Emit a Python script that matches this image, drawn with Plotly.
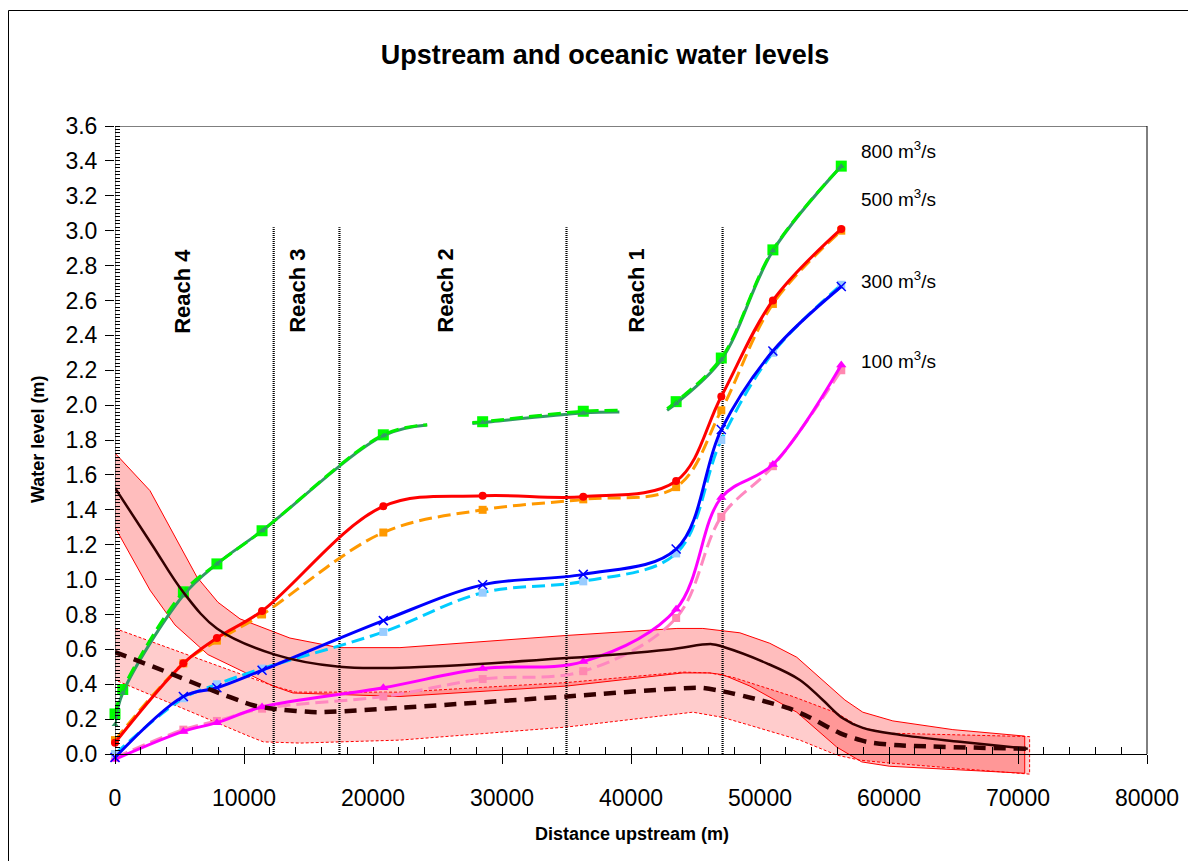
import plotly.graph_objects as go

# ---------------- data ----------------
# sampling stations (distance upstream, m) of the 100/300/500 m3/s profiles
stations = [0, 5300, 7900, 11400, 20800, 28500, 36300, 43500, 47000, 51000, 56300]

q500_model = [0.065, 0.52, 0.665, 0.82, 1.42, 1.48, 1.475, 1.565, 2.05, 2.60, 3.01]
q500_obs = [0.08, 0.52, 0.65, 0.80, 1.27, 1.40, 1.46, 1.53, 1.97, 2.58, 3.00]
q300_model = [-0.02, 0.33, 0.38, 0.48, 0.765, 0.97, 1.03, 1.175, 1.86, 2.31, 2.68]
q300_obs = [0.0, 0.32, 0.40, 0.49, 0.70, 0.925, 0.99, 1.15, 1.80, 2.30, 2.69]
q100_model = [-0.03, 0.13, 0.18, 0.27, 0.38, 0.49, 0.53, 0.83, 1.47, 1.66, 2.23]
q100_obs = [-0.02, 0.14, 0.19, 0.26, 0.33, 0.43, 0.475, 0.78, 1.36, 1.65, 2.20]

# 800 m3/s profile (with gaps)
q800_x = [0, 600, 5300, 7900, 11400, 20800, 24200, 26000, 27700, 28500, 36300,
          39100, 41000, 42800, 43500, 47000, 51000, 56300]
q800_model = [0.17, 0.35, 0.91, 1.09, 1.28, 1.825, 1.886, None, 1.895, 1.90, 1.955,
              1.96, None, 1.97, 2.01, 2.26, 2.885, 3.37]
q800_obs = [0.23, 0.37, 0.93, 1.09, 1.28, 1.83, 1.888, None, 1.90, 1.905, 1.965,
            1.97, None, 1.98, 2.02, 2.27, 2.89, 3.37]
q800_marker_x = [0, 600, 5300, 7900, 11400, 20800, 28500, 36300, 43500, 47000, 51000, 56300]

# oceanic levels: mean (solid) with envelope
ocean_hi_x = [0, 2870, 5270, 7900, 12400, 17400, 22090, 35030, 43000, 46270, 47120,
              50530, 53090, 54870, 56420, 57970, 60840, 65490, 70760]
ocean_hi = [1.525, 1.20, 0.93, 0.72, 0.57, 0.50, 0.495, 0.55, 0.60, 0.63, 0.615,
            0.52, 0.425, 0.31, 0.205, 0.15, 0.11, 0.07, 0.03]
band_hi_upper_x = [0, 2710, 6350, 7980, 9690, 13560, 17360, 22090, 35030, 43560, 45570,
                   48440, 50760, 52850, 56580, 57970, 60300, 64950, 70520]
band_hi_upper = [1.725, 1.51, 1.015, 0.87, 0.775, 0.665, 0.61, 0.61, 0.68, 0.72, 0.72,
                 0.695, 0.635, 0.555, 0.31, 0.24, 0.19, 0.14, 0.103]
band_hi_lower_x = [0, 2710, 4650, 7210, 12250, 13800, 22090, 35030, 44020, 46110, 47120,
                   49210, 52850, 55950, 57890, 60060, 70520]
band_hi_lower = [1.30, 0.94, 0.74, 0.57, 0.39, 0.35, 0.33, 0.39, 0.465, 0.465, 0.455,
                 0.39, 0.24, 0.04, -0.045, -0.07, -0.11]

# oceanic levels: lower scenario (dashed) with envelope
ocean_lo_x = [0, 4030, 7360, 10700, 12250, 15650, 22090, 35030, 45340, 47120, 49990,
              52310, 53860, 56190, 58280, 60840, 70760]
ocean_lo = [0.585, 0.47, 0.37, 0.28, 0.26, 0.24, 0.265, 0.33, 0.38, 0.36, 0.31,
            0.26, 0.21, 0.12, 0.07, 0.05, 0.03]
band_lo_upper_x = [0, 12300, 14000, 22090, 35030, 44020, 46110, 47900, 52550, 55950,
                   57740, 59830, 70900]
band_lo_upper = [0.72, 0.39, 0.355, 0.355, 0.41, 0.47, 0.465, 0.44, 0.33, 0.235,
                 0.155, 0.12, 0.10]
band_lo_lower_x = [0, 10460, 11500, 14340, 22090, 35030, 44800, 47120, 49210, 53090,
                   54400, 55950, 57740, 59830, 70900]
band_lo_lower = [0.425, 0.10, 0.07, 0.063, 0.08, 0.155, 0.24, 0.21, 0.165, 0.08,
                 0.04, -0.006, -0.035, -0.05, -0.115]

reach_bounds = [12300, 17400, 35000, 47100]
reach_top = 3.02
reach_names = ["Reach 4", "Reach 3", "Reach 2", "Reach 1"]
reach_label_x = [5270, 14180, 25650, 40450]
reach_label_y = 2.655

flow_labels = ["800 m<sup>3</sup>/s", "500 m<sup>3</sup>/s", "300 m<sup>3</sup>/s", "100 m<sup>3</sup>/s"]
flow_label_x = 57700
flow_label_y = [3.46, 3.19, 2.72, 2.26]

x_ticks = list(range(0, 80001, 10000))
y_ticks = [round(0.2 * i, 1) for i in range(19)]

# ---------------- figure ----------------
FONT = "Arial, 'Liberation Sans', sans-serif"
YMIN, YMAX = -0.12, 3.6
OFF = 8  # page body margin
fig = go.Figure()


def band(xu, yu, xl, yl, fill, dash):
    fig.add_trace(go.Scatter(
        x=list(xu) + list(xl)[::-1], y=list(yu) + list(yl)[::-1],
        mode="lines", fill="toself", fillcolor=fill,
        line=dict(color="#FF0000", width=1, dash=dash), hoverinfo="skip"))


band(band_lo_upper_x, band_lo_upper, band_lo_lower_x, band_lo_lower,
     "rgba(255,0,0,0.20)", "3px,2px")
band(band_hi_upper_x, band_hi_upper, band_hi_lower_x, band_hi_lower,
     "rgba(255,0,0,0.26)", "solid")

# reach boundaries
for b in reach_bounds:
    fig.add_trace(go.Scatter(x=[b, b], y=[0, reach_top], mode="lines",
                             line=dict(color="black", width=2.2, dash="1px,1px"),
                             hoverinfo="skip"))


def series(x, y, color, width, dash, symbol, msize, mcolor, smoothing=1.0):
    fig.add_trace(go.Scatter(
        x=x, y=y, mode="lines+markers", connectgaps=False, cliponaxis=False,
        line=dict(color=color, width=width, dash=dash, shape="spline", smoothing=smoothing),
        marker=dict(symbol=symbol, size=msize, color=mcolor,
                    line=dict(color=mcolor, width=1.5 if "x" in symbol else 0))))


# dashed "observed" profiles
series(stations, q100_obs, "#FF88C0", 3, "13px,6px", "square", 8, "#FF88B0")
series(stations, q300_obs, "#00CCFF", 3, "13px,6px", "square", 8, "#99CCFF")
series(stations, q500_obs, "#FF9900", 3, "13px,6px", "square", 8, "#FF9900")
# solid profiles
series(stations, q100_model, "#FF00FF", 3, "solid", "triangle-up", 9, "#FF00FF")
series(stations, q300_model, "#0000FF", 3, "solid", "x-thin", 9, "#0000FF")
series(stations, q500_model, "#FF0000", 3, "solid", "circle", 8, "#FF0000")

# 800 m3/s
lookup_obs = {x: y for x, y in zip(q800_x, q800_obs)}
lookup_mod = {x: y for x, y in zip(q800_x, q800_model)}
fig.add_trace(go.Scatter(x=q800_marker_x, y=[lookup_obs[x] for x in q800_marker_x],
                         mode="markers", cliponaxis=False,
                         marker=dict(symbol="square", size=11, color="#00FF00")))
fig.add_trace(go.Scatter(x=q800_x, y=q800_model, mode="lines", connectgaps=False,
                         line=dict(color="#339966", width=3, shape="spline")))
fig.add_trace(go.Scatter(x=q800_x, y=q800_obs, mode="lines", connectgaps=False,
                         line=dict(color="#00EE00", width=3, dash="13px,6px", shape="spline")))
fig.add_trace(go.Scatter(x=q800_marker_x, y=[lookup_mod[x] for x in q800_marker_x],
                         mode="markers", cliponaxis=False,
                         marker=dict(symbol="triangle-up", size=6, color="#339966")))

# oceanic mean lines
fig.add_trace(go.Scatter(x=ocean_lo_x, y=ocean_lo, mode="lines",
                         line=dict(color="#330000", width=4.5, dash="12px,8px",
                                   shape="spline", smoothing=0.6)))
fig.add_trace(go.Scatter(x=ocean_hi_x, y=ocean_hi, mode="lines",
                         line=dict(color="#330000", width=2.5, shape="spline", smoothing=1.0)))

annotations = []
for name, xr in zip(reach_names, reach_label_x):
    annotations.append(dict(x=xr, y=reach_label_y, xref="x", yref="y", text="<b>" + name + "</b>",
                            textangle=-90, showarrow=False, xanchor="center", yanchor="middle",
                            font=dict(family=FONT, size=22, color="black")))
for lab, yl in zip(flow_labels, flow_label_y):
    annotations.append(dict(x=flow_label_x, y=yl, xref="x", yref="y", text=lab,
                            xanchor="left", yanchor="middle", showarrow=False,
                            font=dict(family=FONT, size=19, color="black")))

# layout in screen pixels (reference), converted to figure pixels
L, R, T, B = 115 - OFF, 1147 - OFF, 126 - OFF, 775 - OFF
W, H = 1196 - OFF, 861 - OFF
pw, ph = R - L, B - T


def px(xs):
    return (xs - OFF - L) / pw


def py(ys):
    return (B - (ys - OFF)) / ph


annotations.append(dict(x=px(632), y=py(834), xref="paper", yref="paper",
                        xanchor="center", yanchor="middle",
                        text="<b>Distance upstream (m)</b>", showarrow=False,
                        font=dict(family=FONT, size=18, color="black")))
annotations.append(dict(x=px(38), y=py(440), xref="paper", yref="paper",
                        xanchor="center", yanchor="middle",
                        text="<b>Water level (m)</b>", textangle=-90, showarrow=False,
                        font=dict(family=FONT, size=18, color="black")))

shapes = [
    # plot-area frame (top and right)
    dict(type="line", xref="paper", yref="y", x0=0, x1=1, y0=YMAX, y1=YMAX,
         line=dict(color="black", width=1)),
    dict(type="line", xref="paper", yref="y", x0=1, x1=1, y0=0, y1=YMAX,
         line=dict(color="black", width=1)),
    # y axis line from 0 up
    dict(type="line", xref="x", yref="y", x0=0, x1=0, y0=0, y1=YMAX,
         line=dict(color="black", width=1)),
    # outer chart border
    dict(type="rect", xref="paper", yref="paper", x0=px(8.5), x1=px(1215),
         y0=py(880), y1=py(10.5), line=dict(color="black", width=1)),
]

fig.update_layout(
    width=W, height=H,
    margin=dict(l=L, r=W - R, t=T, b=H - B),
    paper_bgcolor="white", plot_bgcolor="white",
    showlegend=False,
    title=dict(text="<b>Upstream and oceanic water levels</b>",
               x=(605 - OFF) / W, xanchor="center", xref="container",
               y=1 - (55 - OFF) / H, yanchor="middle", yref="container",
               font=dict(family=FONT, size=27, color="black")),
    annotations=annotations,
    shapes=shapes,
    xaxis=dict(range=[0, 80000], tickvals=x_ticks, tickformat="d",
               anchor="free", position=(0 - YMIN) / (YMAX - YMIN),
               showline=True, linecolor="black", linewidth=1,
               ticks="outside", ticklen=9, tickcolor="black", tickwidth=1,
               ticklabelstandoff=14,
               minor=dict(tickvals=list(range(2000, 80000, 2000)), ticks="inside",
                          ticklen=7, tickcolor="black", tickwidth=1),
               showgrid=False, zeroline=False,
               tickfont=dict(family=FONT, size=23, color="black")),
    yaxis=dict(range=[YMIN, YMAX], tickvals=y_ticks, tickformat=".1f",
               showline=False, ticks="outside", ticklen=9, tickcolor="black", tickwidth=1,
               ticklabelstandoff=3,
               minor=dict(tickvals=[round(0.02 * i, 2) for i in range(181)], ticks="inside",
                          ticklen=5, tickcolor="black", tickwidth=1),
               showgrid=False, zeroline=False,
               tickfont=dict(family=FONT, size=23, color="black")),
)

fig.write_html("out.html")
